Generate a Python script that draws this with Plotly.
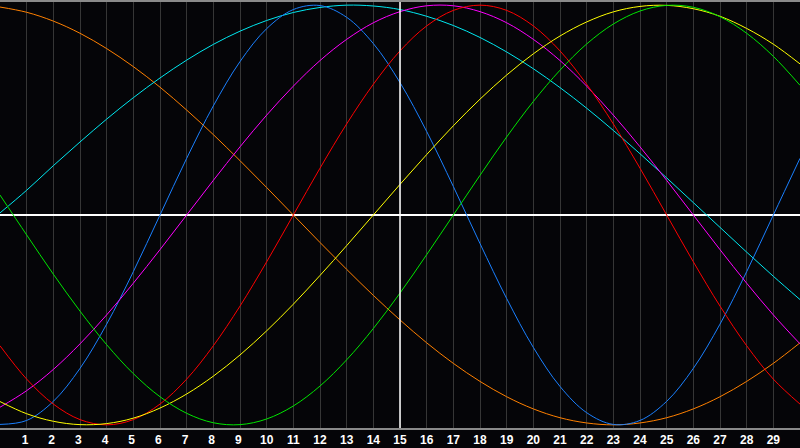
import plotly.graph_objects as go

days = list(range(0, 31))
tick_vals = list(range(1, 30))
tick_labels = [str(d) for d in tick_vals]

# curve values, one per day
blue = [-0.998, -0.979, -0.888, -0.731, -0.520, -0.270, 0.000, 0.270, 0.520, 0.731, 0.888, 0.979, 0.998, 0.942, 0.817,
        0.631, 0.398, 0.136, -0.136, -0.398, -0.631, -0.817, -0.942, -0.998, -0.979, -0.888, -0.731, -0.520, -0.270, 0.000, 0.270]
red = [-0.623, -0.782, -0.901, -0.975, -1.000, -0.975, -0.901, -0.782, -0.623, -0.434, -0.223, 0.000, 0.223, 0.434, 0.623,
       0.782, 0.901, 0.975, 1.000, 0.975, 0.901, 0.782, 0.623, 0.434, 0.223, 0.000, -0.223, -0.434, -0.623, -0.782, -0.901]
green = [0.095, -0.095, -0.282, -0.458, -0.618, -0.756, -0.866, -0.945, -0.990, -0.999, -0.972, -0.910, -0.815, -0.690, -0.541,
         -0.372, -0.189, 0.000, 0.189, 0.372, 0.541, 0.690, 0.815, 0.910, 0.972, 0.999, 0.990, 0.945, 0.866, 0.756, 0.618]
magenta = [-0.916, -0.837, -0.736, -0.614, -0.476, -0.325, -0.165, 0.000, 0.165, 0.325, 0.476, 0.614, 0.736, 0.837, 0.916,
           0.969, 0.997, 0.997, 0.969, 0.916, 0.837, 0.736, 0.614, 0.476, 0.325, 0.165, 0.000, -0.165, -0.325, -0.476, -0.614]
yellow = [-0.889, -0.947, -0.983, -0.999, -0.994, -0.968, -0.920, -0.853, -0.768, -0.667, -0.552, -0.425, -0.288, -0.146, 0.000,
          0.146, 0.288, 0.425, 0.552, 0.667, 0.768, 0.853, 0.920, 0.968, 0.994, 0.999, 0.983, 0.947, 0.889, 0.814, 0.720]
orange = [0.991, 0.966, 0.924, 0.866, 0.793, 0.707, 0.609, 0.500, 0.383, 0.259, 0.131, 0.000, -0.131, -0.259, -0.383,
          -0.500, -0.609, -0.707, -0.793, -0.866, -0.924, -0.966, -0.991, -1.000, -0.991, -0.966, -0.924, -0.866, -0.793, -0.707, -0.609]
cyan = [0.010, 0.118, 0.235, 0.348, 0.457, 0.559, 0.653, 0.738, 0.813, 0.876, 0.927, 0.965, 0.989, 1.000, 0.996,
        0.979, 0.947, 0.903, 0.846, 0.777, 0.697, 0.607, 0.509, 0.403, 0.292, 0.177, 0.059, -0.059, -0.177, -0.292, -0.403]

series = [
    ("orange", orange, "#ff8000"),
    ("cyan", cyan, "#00e8f0"),
    ("blue", blue, "#1a80ff"),
    ("magenta", magenta, "#ff00ff"),
    ("red", red, "#ff0000"),
    ("yellow", yellow, "#ffff00"),
    ("green", green, "#00e600"),
]

fig = go.Figure()
for name, vals, col in series:
    fig.add_trace(go.Scatter(x=days, y=vals, mode="lines", name=name,
                             line=dict(color=col, width=1, shape="spline", smoothing=1.0),
                             hoverinfo="skip"))

fig.add_shape(type="line", xref="x", yref="paper", x0=15, x1=15, y0=0, y1=1,
              line=dict(color="#ffffff", width=1.5), layer="above")

fig.update_layout(
    width=800, height=448,
    margin=dict(l=0, r=0, t=0, b=20),
    paper_bgcolor="#050508",
    plot_bgcolor="#050508",
    showlegend=False,
    xaxis=dict(range=[0, 30], tickvals=tick_vals,
               ticktext=[t + "\u00a0" if len(t) == 1 else t for t in tick_labels],
               showgrid=True, gridcolor="#363636", gridwidth=1, zeroline=False,
               showline=True, linecolor="#8a8a8a", linewidth=2, mirror=True,
               ticks="", tickfont=dict(family="Liberation Sans", size=12, color="#ffffff", weight="bold"),
               fixedrange=True),
    yaxis=dict(range=[-1.015, 1.015], showgrid=False, showticklabels=False,
               zeroline=True, zerolinecolor="#ffffff", zerolinewidth=1.5,
               showline=True, linecolor="#8a8a8a", linewidth=2, mirror=False, ticks="",
               fixedrange=True),
)

fig.write_html("out.html", config={"displayModeBar": False},
               post_script="document.body.style.margin='0';document.body.style.background='#050508';")
